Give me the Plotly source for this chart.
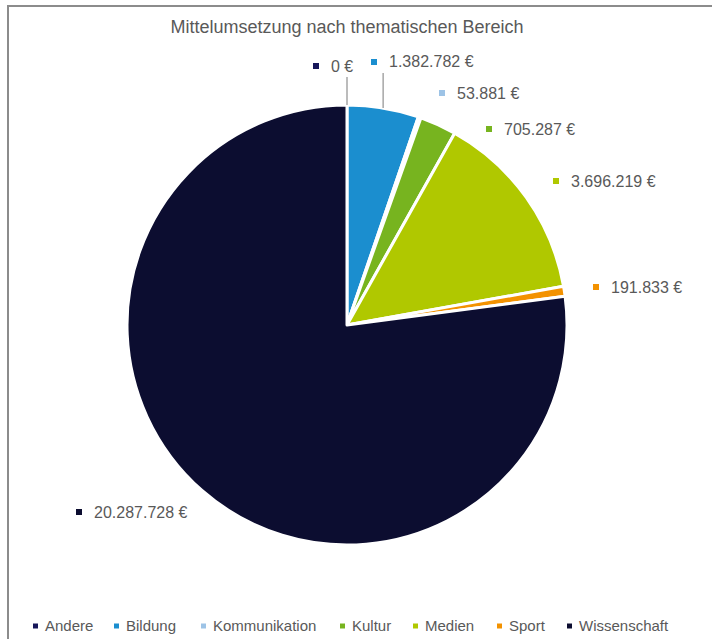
import math
import plotly.graph_objects as go

categories = ['Andere', 'Bildung', 'Kommunikation', 'Kultur', 'Medien', 'Sport', 'Wissenschaft']
amounts = [0, 1382782, 53881, 705287, 3696219, 191833, 20287728]
colors = ['#17175a', '#1b8ecf', '#9dc3e6', '#77b41f', '#b0c800', '#f39200', '#0c0d30']

W, H = 712, 639
CX, CY, R = 347, 325, 220
FONT = 'Liberation Sans, Arial, sans-serif'
GREY = '#595959'

# label anchors (left edge of marker square, vertical centre) in page pixels
label_pos = [(313, 66), (371, 62), (439, 93), (486, 129), (553, 181), (593, 287), (76, 512)]
legend_x = [33, 114, 201, 340, 413, 497, 567]
legend_y = 625


def px(x):
    return x / W


def py(y):
    return 1 - y / H


def euro(v):
    return f'{v:,}'.replace(',', '.') + ' €'


def square(x, y, c, size=6):
    return dict(type='rect', xref='paper', yref='paper',
                x0=px(x), x1=px(x + size), y0=py(y + size / 2), y1=py(y - size / 2),
                fillcolor=c, line=dict(width=0))


fig = go.Figure(go.Pie(
    labels=categories, values=amounts,
    sort=False, direction='clockwise', rotation=0,
    marker=dict(colors=colors, line=dict(color='white', width=3)),
    textinfo='none', showlegend=False,
    domain=dict(x=[px(CX - R), px(CX + R)], y=[py(CY + R), py(CY - R)]),
))

annotations = []
shapes = []

# value labels
for v, c, (lx, ly) in zip(amounts, colors, label_pos):
    shapes.append(square(lx, ly, c))
    annotations.append(dict(
        x=px(lx + 16), y=py(ly), xref='paper', yref='paper',
        xanchor='left', yanchor='middle', showarrow=False,
        text=euro(v),
        font=dict(family=FONT, size=16, color=GREY),
    ))

# leader lines for the two slices at the top
total = sum(amounts)
cum = 0
for i, v in enumerate(amounts):
    mid = (cum + v / 2) / total * 2 * math.pi
    cum += v
    if i < 2:
        ex = CX + R * math.sin(mid)
        ey = CY - R * math.cos(mid)
        shapes.append(dict(
            type='line', xref='paper', yref='paper',
            x0=px(ex), y0=py(ey), x1=px(ex), y1=py(label_pos[i][1] + 11),
            line=dict(color='#a6a6a6', width=1.5),
        ))

# legend
for name, c, lx in zip(categories, colors, legend_x):
    shapes.append(square(lx, legend_y + 1, c, size=5))
    annotations.append(dict(
        x=px(lx + 10), y=py(legend_y), xref='paper', yref='paper',
        xanchor='left', yanchor='middle', showarrow=False,
        text=name,
        font=dict(family=FONT, size=15, color=GREY),
    ))

# chart frame (cropped: only top and left edges visible)
shapes.append(dict(type='line', xref='paper', yref='paper', x0=px(7), y0=py(6), x1=1, y1=py(6),
                   line=dict(color='#8c8c8c', width=2)))
shapes.append(dict(type='line', xref='paper', yref='paper', x0=px(8), y0=py(6), x1=px(8), y1=0,
                   line=dict(color='#8c8c8c', width=2)))

fig.update_layout(
    width=W, height=H,
    margin=dict(l=0, r=0, t=0, b=0),
    paper_bgcolor='white', plot_bgcolor='white',
    title=dict(text='Mittelumsetzung nach thematischen Bereich', x=px(CX), y=py(27),
               xanchor='center', yanchor='middle',
               font=dict(family=FONT, size=18, color=GREY)),
    annotations=annotations,
    shapes=shapes,
)

fig.write_html('out.html', config={'displayModeBar': False},
               post_script="document.body.style.margin='0';")
